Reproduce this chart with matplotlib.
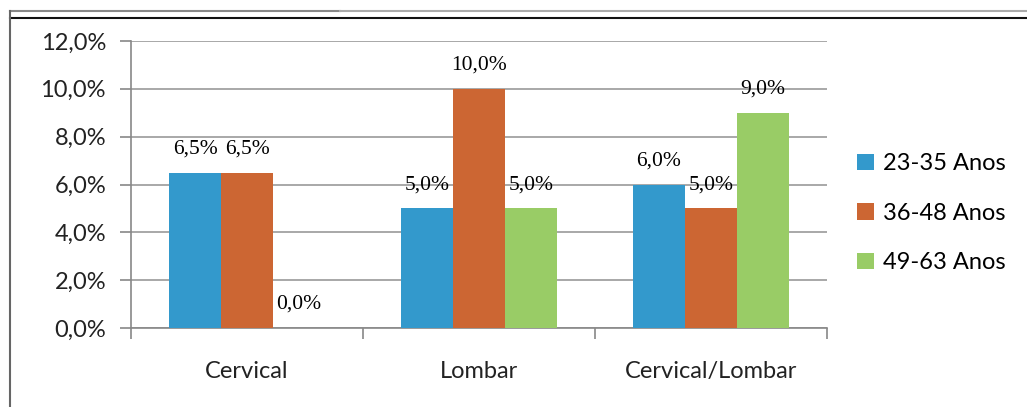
import matplotlib.pyplot as plt
from matplotlib.lines import Line2D
import numpy as np

categories = ["Cervical", "Lombar", "Cervical/Lombar"]
series_names = ["23-35 Anos", "36-48 Anos", "49-63 Anos"]
v_23_35 = [6.5, 5.0, 6.0]
v_36_48 = [6.5, 10.0, 5.0]
v_49_63 = [0.0, 5.0, 9.0]
colors = ["#3399CC", "#CC6633", "#99CC66"]
yticks = [0, 2, 4, 6, 8, 10, 12]

def pct(v):
    return ("%.1f%%" % v).replace(".", ",")

fig = plt.figure(figsize=(10.27, 4.07), dpi=100)
ax = fig.add_axes([131 / 1027, 79 / 407, (827 - 131) / 1027, (328 - 41) / 407])

x = np.arange(len(categories))
w = 0.224
for i, vals in enumerate([v_23_35, v_36_48, v_49_63]):
    pos = x + (i - 1) * w
    ax.bar(pos, vals, width=w, color=colors[i], label=series_names[i], zorder=3)
    for p, v in zip(pos, vals):
        ax.annotate(pct(v), (p, v), xytext=(0, 17), textcoords="offset points",
                    ha="center", va="center", fontsize=15.5,
                    family="Liberation Serif", zorder=4)

ax.set_xlim(-0.5, 2.5)
ax.set_ylim(0, 12)
ax.set_yticks(yticks)
ax.set_yticklabels([pct(t) for t in yticks], fontsize=17, family="Lato", color="#222222")
ax.set_xticks(x)
ax.set_xticklabels(categories, fontsize=17, family="Lato", color="#222222")
ax.set_xticks([-0.5, 0.5, 1.5, 2.5], minor=True)
ax.tick_params(axis="x", which="major", length=0, pad=24)
ax.tick_params(axis="x", which="minor", length=8, color="#888888", width=1.2)
ax.tick_params(axis="y", length=8, color="#888888", width=1.2, pad=10)
ax.grid(axis="y", color="#999999", linewidth=1.2, zorder=0)
for s in ["top", "right"]:
    ax.spines[s].set_visible(False)
for s in ["left", "bottom"]:
    ax.spines[s].set_color("#888888")
    ax.spines[s].set_linewidth(1.2)

leg = ax.legend(loc="center left", bbox_to_anchor=(1.02, 0.4), frameon=False,
                prop={"family": "Lato", "size": 17}, handlelength=0.68,
                handleheight=0.68, handletextpad=0.4, labelspacing=1.2,
                borderpad=0.2)

# outer frame lines
fig.add_artist(Line2D([10 / 1027, 340 / 1027], [1 - 11 / 407, 1 - 11 / 407], color="#888888", lw=1.5))
fig.add_artist(Line2D([340 / 1027, 1], [1 - 11 / 407, 1 - 11 / 407], color="#aaaaaa", lw=1.5))
fig.add_artist(Line2D([10 / 1027, 1], [1 - 18 / 407, 1 - 18 / 407], color="#111111", lw=1.5))
fig.add_artist(Line2D([10 / 1027, 10 / 1027], [0, 1 - 11 / 407], color="#666666", lw=1.5))

fig.savefig("out.png", dpi=100)
